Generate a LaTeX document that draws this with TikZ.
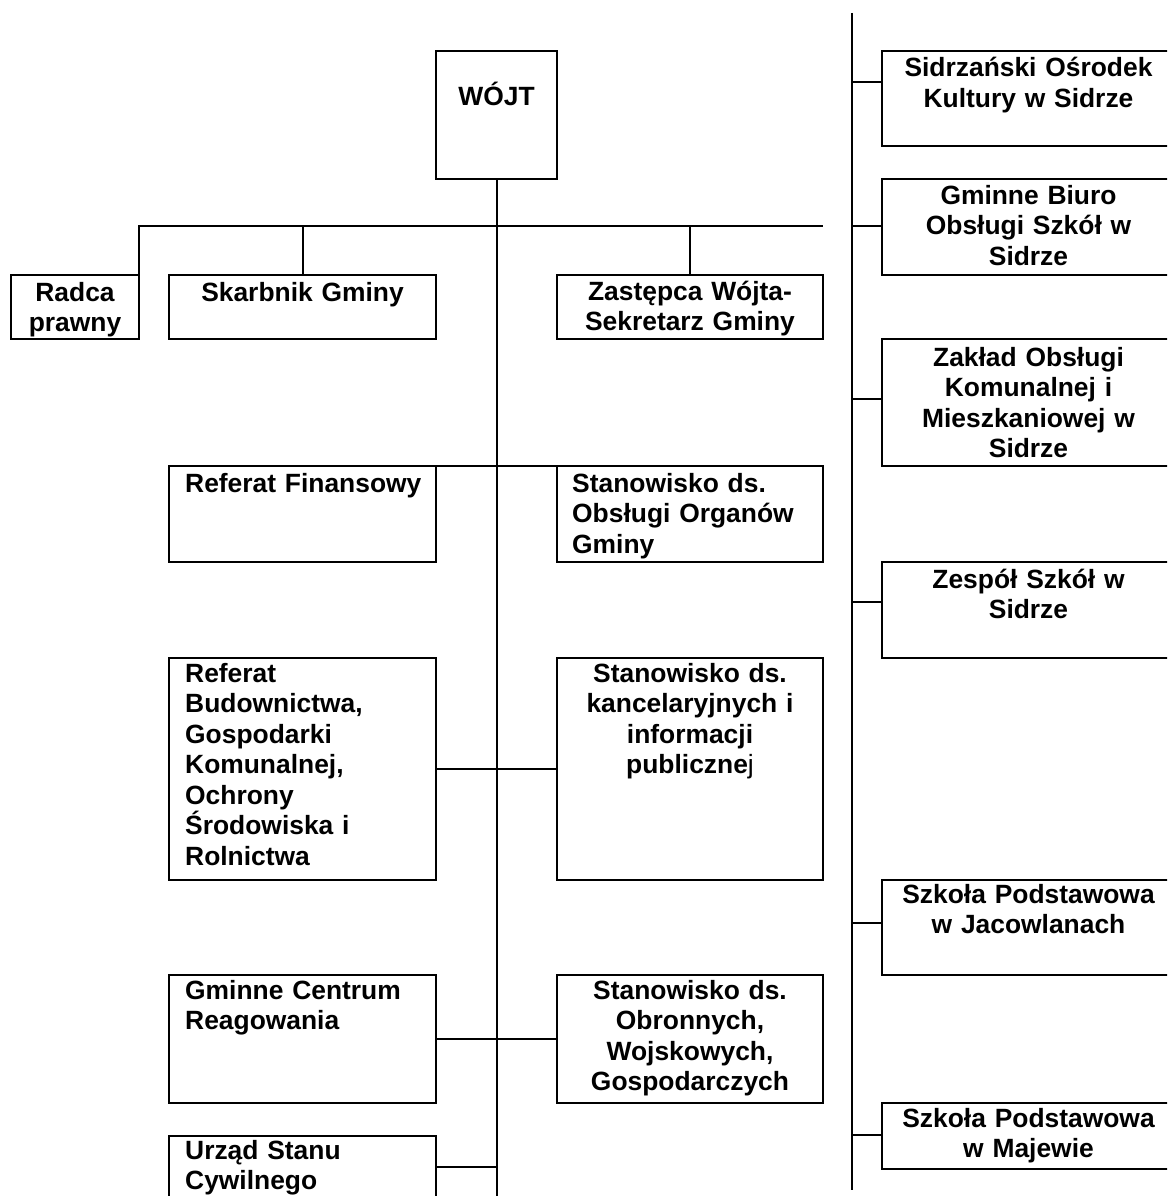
\documentclass[tikz,border=0pt]{standalone}
\usepackage{fontspec}
\setmainfont{Liberation Sans}
\begin{document}
\begin{tikzpicture}[x=1pt,y=-1pt,
  box/.style={draw, line width=2pt, inner sep=0pt, outer sep=0pt, anchor=north west, rectangle},
  txt/.style={inner sep=0pt, font=\fontsize{26.4pt}{30.5pt}\selectfont\bfseries},
  ctxt/.style={txt, anchor=base, align=center},
  ltxt/.style={txt, anchor=base west, align=left},
  conn/.style={line width=2pt}]
\useasboundingbox (0,0) rectangle (1167,1196);
\clip (0,0) rectangle (1167,1196);

% ---- boxes ----
\node[box, minimum width=121pt, minimum height=128pt] (wojt) at (436,51) {};
\node[box, minimum width=128pt, minimum height=64pt] (radca) at (11,275) {};
\node[box, minimum width=267pt, minimum height=64pt] (skarb) at (169,275) {};
\node[box, minimum width=266pt, minimum height=64pt] (zast) at (557,275) {};
\node[box, minimum width=267pt, minimum height=96pt] (fin) at (169,466) {};
\node[box, minimum width=266pt, minimum height=96pt] (obsl) at (557,466) {};
\node[box, minimum width=267pt, minimum height=222pt] (bud) at (169,658) {};
\node[box, minimum width=266pt, minimum height=222pt] (kanc) at (557,658) {};
\node[box, minimum width=267pt, minimum height=128pt] (gcr) at (169,975) {};
\node[box, minimum width=266pt, minimum height=128pt] (obr) at (557,975) {};
\node[box, minimum width=267pt, minimum height=100pt] (usc) at (169,1136) {};

\node[box, minimum width=293pt, minimum height=95pt] (sok) at (882,51) {};
\node[box, minimum width=293pt, minimum height=96pt] (gbos) at (882,179) {};
\node[box, minimum width=293pt, minimum height=127pt] (zokim) at (882,339) {};
\node[box, minimum width=293pt, minimum height=96pt] (zs) at (882,562) {};
\node[box, minimum width=293pt, minimum height=95pt] (spj) at (882,880) {};
\node[box, minimum width=293pt, minimum height=66pt] (spm) at (882,1103) {};

% ---- texts ----
\node[ctxt, text width=121pt] (twojt) at ([yshift=-55pt]wojt.north) {WÓJT};
\node[ctxt, text width=128pt] (tradca) at ([yshift=-26pt]radca.north) {Radca\\prawny};
\node[ctxt, text width=267pt] (tskarb) at ([yshift=-26pt]skarb.north) {Skarbnik Gminy};
\node[ctxt, text width=266pt] (tzast) at ([yshift=-25pt]zast.north) {Zastępca Wójta-\\Sekretarz Gminy};
\node[ltxt, text width=248pt] (tfin) at ([xshift=16pt,yshift=-26pt]fin.north west) {Referat Finansowy};
\node[ltxt, text width=248pt] (tobsl) at ([xshift=15pt,yshift=-26pt]obsl.north west) {Stanowisko ds.\\Obsługi Organów\\Gminy};
\node[ltxt, text width=248pt] (tbud) at ([xshift=16pt,yshift=-24pt]bud.north west) {Referat\\Budownictwa,\\Gospodarki\\Komunalnej,\\Ochrony\\Środowiska i\\Rolnictwa};
\node[ctxt, text width=266pt] (tkanc) at ([yshift=-24pt]kanc.north) {Stanowisko ds.\\kancelaryjnych i\\informacji\\publiczne{\mdseries j}};
\node[ltxt, text width=248pt] (tgcr) at ([xshift=16pt,yshift=-24pt]gcr.north west) {Gminne Centrum\\Reagowania};
\node[ctxt, text width=266pt] (tobr) at ([yshift=-24pt]obr.north) {Stanowisko ds.\\Obronnych,\\Wojskowych,\\Gospodarczych};
\node[ltxt, text width=248pt] (tusc) at ([xshift=16pt,yshift=-23pt]usc.north west) {Urząd Stanu\\Cywilnego};

\node[ctxt, text width=293pt] (tsok) at ([yshift=-26pt]sok.north) {Sidrzański Ośrodek\\Kultury w Sidrze};
\node[ctxt, text width=293pt] (tgbos) at ([yshift=-25pt]gbos.north) {Gminne Biuro\\Obsługi Szkół w\\Sidrze};
\node[ctxt, text width=293pt] (tzokim) at ([yshift=-27pt]zokim.north) {Zakład Obsługi\\Komunalnej i\\Mieszkaniowej w\\Sidrze};
\node[ctxt, text width=293pt] (tzs) at ([yshift=-26pt]zs.north) {Zespół Szkół w\\Sidrze};
\node[ctxt, text width=293pt] (tspj) at ([yshift=-23pt]spj.north) {Szkoła Podstawowa\\w Jacowlanach};
\node[ctxt, text width=293pt] (tspm) at ([yshift=-24pt]spm.north) {Szkoła Podstawowa\\w Majewie};

% ---- connectors ----
\coordinate (cbot) at (497,1200);
\coordinate (hl) at (139,226);
\coordinate (hr) at (823,226);
\coordinate (rtop) at (852,13);
\coordinate (rbot) at (852,1190);
\coordinate (uscc) at (436,1167);

\draw[conn] (wojt.south) -- (wojt.south |- cbot);
\draw[conn] (radca.north east) -- (hl) -- (hr);
\draw[conn] (skarb.north) -- (skarb.north |- hl);
\draw[conn] (zast.north) -- (zast.north |- hl);
\draw[conn] (fin.north east) -- (obsl.north west);
\draw[conn] (bud.east) -- (kanc.west);
\draw[conn] (gcr.east) -- (obr.west);
\draw[conn] (uscc) -- (uscc -| wojt.south);

\draw[conn] (rtop) -- (rbot);
\draw[conn] (sok.west |- 0,82) -- (rtop |- 0,82);
\draw[conn] (gbos.west |- 0,226) -- (rtop |- 0,226);
\draw[conn] (zokim.west |- 0,399) -- (rtop |- 0,399);
\draw[conn] (zs.west |- 0,602) -- (rtop |- 0,602);
\draw[conn] (spj.west |- 0,923) -- (rtop |- 0,923);
\draw[conn] (spm.west |- 0,1135) -- (rtop |- 0,1135);
\end{tikzpicture}
\end{document}
